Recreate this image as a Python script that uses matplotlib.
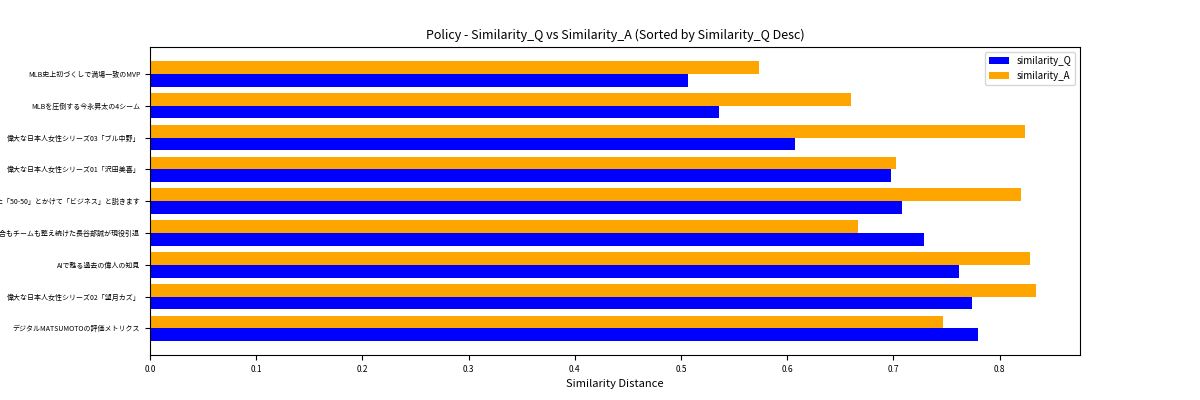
import matplotlib.pyplot as plt
import numpy as np

plt.rcParams['font.family'] = ['Noto Sans CJK JP', 'DejaVu Sans']

titles = [
    "MLB史上初づくしで満場一致のMVP",
    "MLBを圧倒する今永昇太の4シーム",
    "偉大な日本人女性シリーズ03「ブル中野」",
    "偉大な日本人女性シリーズ01「沢田美喜」",
    "こそ達成できた「50-50」とかけて「ビジネス」と説きます",
    "心も試合もチームも整え続けた長谷部誠が現役引退",
    "AIで甦る過去の偉人の知見",
    "偉大な日本人女性シリーズ02「望月カズ」",
    "デジタルMATSUMOTOの評価メトリクス",
]
similarity_q = [0.507, 0.536, 0.607, 0.698, 0.708, 0.729, 0.762, 0.774, 0.780]
similarity_a = [0.573, 0.660, 0.824, 0.702, 0.820, 0.667, 0.829, 0.834, 0.747]

# bottom row is the largest similarity_Q
y = np.arange(len(titles))[::-1]
h = 0.4

fig, ax = plt.subplots(figsize=(12, 4), dpi=100)
ax.barh(y - h / 2, similarity_q, height=h, color="blue", label="similarity_Q")
ax.barh(y + h / 2, similarity_a, height=h, color="orange", label="similarity_A")
ax.set_yticks(y)
ax.set_yticklabels(titles, fontsize=5)
ax.tick_params(axis="x", labelsize=6)
ax.set_xlabel("Similarity Distance", fontsize=8)
ax.set_title("Policy - Similarity_Q vs Similarity_A (Sorted by Similarity_Q Desc)", fontsize=9)
ax.legend(fontsize=7, loc="upper right")
fig.subplots_adjust(left=0.125, right=0.9, top=0.882, bottom=0.112)
fig.savefig("out.png", dpi=100)
